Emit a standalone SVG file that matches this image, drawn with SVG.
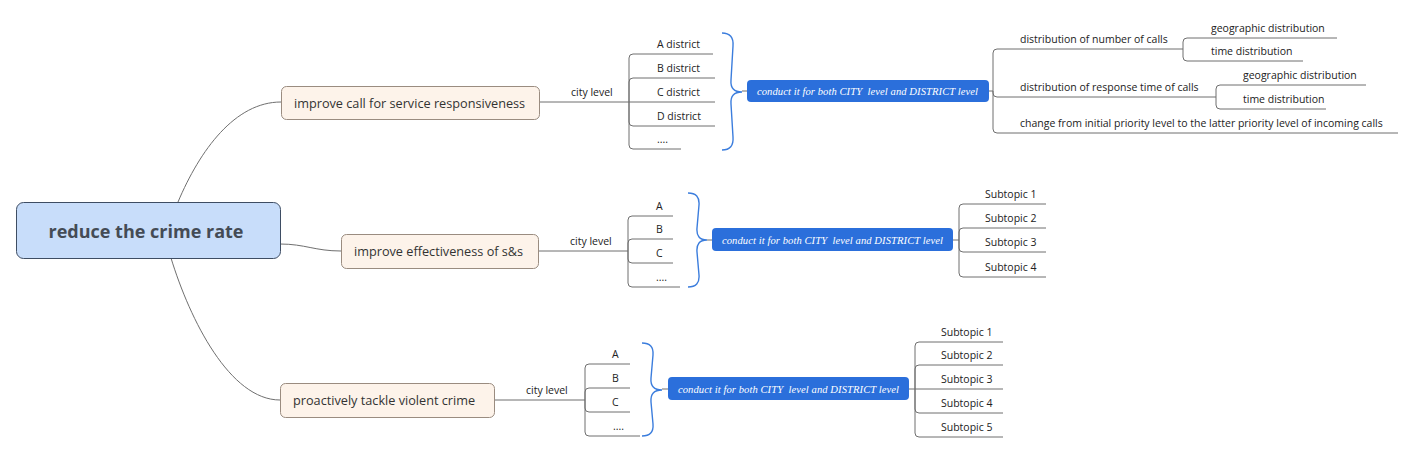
<svg xmlns="http://www.w3.org/2000/svg" width="1414" height="453" viewBox="0 0 1414 453">
<style>
.bg{fill:#ffffff}
.ln{fill:none;stroke:#6f6f6f;stroke-width:1}
.brace{fill:none;stroke:#3b7ddd;stroke-width:1.4}
.root{fill:#c8ddfa;stroke:#3e4d63;stroke-width:1}
.rtext{font-family:"Open Sans","Noto Sans",sans-serif;font-size:18px;font-weight:bold;fill:#444b55}
.br{fill:#fdf3ea;stroke:#9a8c80;stroke-width:1}
.btext{font-family:"Open Sans","Noto Sans",sans-serif;font-size:12.7px;fill:#333333}
.t{font-family:"Open Sans","Noto Sans",sans-serif;font-size:10.5px;fill:#222222}
.blue{fill:#2b6fdb}
.bt{font-family:"Liberation Serif","DejaVu Serif",serif;font-style:italic;font-size:10.6px;fill:#ffffff;white-space:pre}
</style>
<rect class="bg" x="0" y="0" width="1414" height="453"/>
<g id="connectors">
  <path class="ln" d="M178,202 C200,150 235,102 281,102"/>
  <path class="ln" d="M280,244 C305,244 315,251 341,251"/>
  <path class="ln" d="M171,258 C190,320 230,400 280,400"/>
  <path class="ln" d="M539,102 H629"/>
  <path class="ln" d="M629,102 V58 Q629,54 633,54 H713"/>
  <path class="ln" d="M629,102 V82 Q629,78 633,78 H715"/>
  <path class="ln" d="M629,102 H715"/>
  <path class="ln" d="M629,102 V122 Q629,126 633,126 H715"/>
  <path class="ln" d="M629,102 V145 Q629,149 633,149 H681"/>
  <path class="brace" d="M722,33 Q734,33 733,46 L731,80 Q730,92 742,92 Q730,92 731,104 L733,137 Q734,150 722,150"/>
  <path class="ln" d="M742,91 H747"/>
  <path class="ln" d="M989,91 H993"/>
  <path class="ln" d="M993,91 V53 Q993,49 997,49 H1183"/>
  <path class="ln" d="M993,91 V93 Q993,97 997,97 H1216"/>
  <path class="ln" d="M993,91 V129 Q993,133 997,133 H1398"/>
  <path class="ln" d="M1183,49 V42 Q1183,38 1187,38 H1337"/>
  <path class="ln" d="M1183,49 V57 Q1183,61 1187,61 H1303"/>
  <path class="ln" d="M1216,97 V89 Q1216,85 1220,85 H1366"/>
  <path class="ln" d="M1216,97 V105 Q1216,109 1220,109 H1326"/>
  <path class="ln" d="M538,251 H628"/>
  <path class="ln" d="M628,251 V220 Q628,216 632,216 H673"/>
  <path class="ln" d="M628,251 V243 Q628,239 632,239 H673"/>
  <path class="ln" d="M628,251 V259 Q628,263 632,263 H673"/>
  <path class="ln" d="M628,251 V283 Q628,287 632,287 H680"/>
  <path class="brace" d="M688,193 Q700,193 699,205 L697,228 Q696,240 707,240 Q696,240 697,252 L699,275 Q700,287 688,287"/>
  <path class="ln" d="M707,240 H712"/>
  <path class="ln" d="M953,240 H959"/>
  <path class="ln" d="M959,240 V208 Q959,204 963,204 H1046"/>
  <path class="ln" d="M959,240 V232 Q959,228 963,228 H1046"/>
  <path class="ln" d="M959,240 V248 Q959,252 963,252 H1046"/>
  <path class="ln" d="M959,240 V273 Q959,277 963,277 H1046"/>
  <path class="ln" d="M494,400 H585"/>
  <path class="ln" d="M585,400 V368 Q585,364 589,364 H630"/>
  <path class="ln" d="M585,400 V392 Q585,388 589,388 H630"/>
  <path class="ln" d="M585,400 V408 Q585,412 589,412 H630"/>
  <path class="ln" d="M585,400 V432 Q585,436 589,436 H640"/>
  <path class="brace" d="M642,343 Q654,343 653,355 L651,378 Q650,390 662,390 Q650,390 651,402 L653,424 Q654,436 642,436"/>
  <path class="ln" d="M662,389 H668"/>
  <path class="ln" d="M909,389 H915"/>
  <path class="ln" d="M915,389 V346 Q915,342 919,342 H1003"/>
  <path class="ln" d="M915,389 V369 Q915,365 919,365 H1003"/>
  <path class="ln" d="M915,389 H1003"/>
  <path class="ln" d="M915,389 V409 Q915,413 919,413 H1003"/>
  <path class="ln" d="M915,389 V433 Q915,437 919,437 H1003"/>
</g>
<g id="root">
  <rect class="root" x="16.5" y="202.5" width="264" height="56" rx="7"/>
  <text class="rtext" x="146" y="237.5" text-anchor="middle">reduce the crime rate</text>
</g>
<g id="branch1">
  <rect class="br" x="281.5" y="86.5" width="258" height="33" rx="5"/>
  <text class="btext" x="294" y="107.5">improve call for service responsiveness</text>
</g>
<g id="branch2">
  <rect class="br" x="341.5" y="234.5" width="197" height="34" rx="5"/>
  <text class="btext" x="354" y="256">improve effectiveness of s&amp;s</text>
</g>
<g id="branch3">
  <rect class="br" x="280.5" y="383.5" width="214" height="34" rx="5"/>
  <text class="btext" x="293" y="405">proactively tackle violent crime</text>
</g>
<g id="b1-items">
  <text class="t" x="571" y="96">city level</text>
  <text class="t" x="657" y="48">A district</text>
  <text class="t" x="657" y="72">B district</text>
  <text class="t" x="657" y="96">C district</text>
  <text class="t" x="657" y="120">D district</text>
  <text class="t" x="657" y="143">....</text>
</g>
<g id="b1-box">
  <rect class="blue" x="747" y="80" width="242" height="22" rx="4"/>
  <text class="bt" x="757" y="94.5" textLength="221" lengthAdjust="spacing">conduct it for both CITY  level and DISTRICT level</text>
</g>
<g id="b1-details">
  <text class="t" x="1020" y="43">distribution of number of calls</text>
  <text class="t" x="1211" y="32">geographic distribution</text>
  <text class="t" x="1211" y="55">time distribution</text>
  <text class="t" x="1020" y="91">distribution of response time of calls</text>
  <text class="t" x="1243" y="79">geographic distribution</text>
  <text class="t" x="1243" y="103">time distribution</text>
  <text class="t" x="1020" y="127">change from initial priority level to the latter priority level of incoming calls</text>
</g>
<g id="b2-items">
  <text class="t" x="570" y="245">city level</text>
  <text class="t" x="656" y="210">A</text>
  <text class="t" x="656" y="233">B</text>
  <text class="t" x="656" y="257">C</text>
  <text class="t" x="656" y="281">....</text>
</g>
<g id="b2-box">
  <rect class="blue" x="712" y="228" width="241" height="23" rx="4"/>
  <text class="bt" x="722" y="243.5" textLength="221" lengthAdjust="spacing">conduct it for both CITY  level and DISTRICT level</text>
</g>
<g id="b2-subtopics">
  <text class="t" x="985" y="198">Subtopic 1</text>
  <text class="t" x="985" y="222">Subtopic 2</text>
  <text class="t" x="985" y="246">Subtopic 3</text>
  <text class="t" x="985" y="271">Subtopic 4</text>
</g>
<g id="b3-items">
  <text class="t" x="526" y="394">city level</text>
  <text class="t" x="612" y="358">A</text>
  <text class="t" x="612" y="382">B</text>
  <text class="t" x="612" y="406">C</text>
  <text class="t" x="613" y="430">....</text>
</g>
<g id="b3-box">
  <rect class="blue" x="668" y="377" width="241" height="23" rx="4"/>
  <text class="bt" x="678" y="392.5" textLength="221" lengthAdjust="spacing">conduct it for both CITY  level and DISTRICT level</text>
</g>
<g id="b3-subtopics">
  <text class="t" x="941" y="336">Subtopic 1</text>
  <text class="t" x="941" y="359">Subtopic 2</text>
  <text class="t" x="941" y="383">Subtopic 3</text>
  <text class="t" x="941" y="407">Subtopic 4</text>
  <text class="t" x="941" y="431">Subtopic 5</text>
</g>
</svg>
